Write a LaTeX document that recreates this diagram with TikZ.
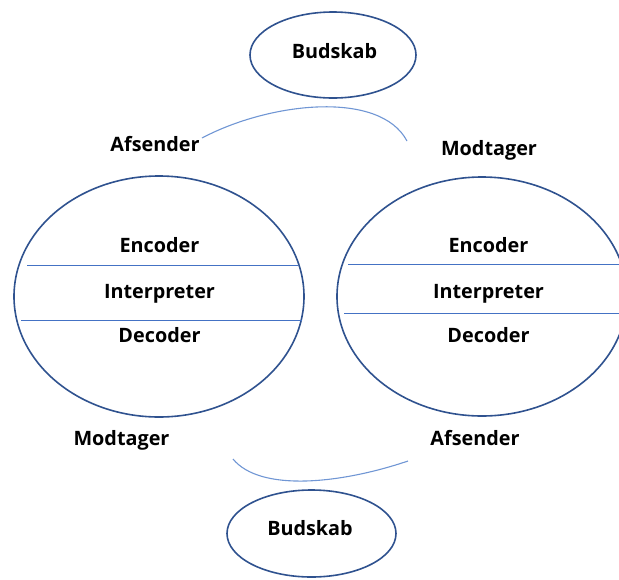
\documentclass[tikz,border=0pt]{standalone}
\usepackage{fontspec}
\setmainfont{Open Sans}
\usepackage{tikz}
\usetikzlibrary{shapes.geometric, positioning}
\definecolor{ringborder}{RGB}{47, 82, 143}
\definecolor{dividercolor}{RGB}{68, 114, 196}
\definecolor{linkcolor}{RGB}{112, 150, 212}
\tikzstyle{ring} = [ellipse, draw=ringborder, line width=1.6pt, inner sep=0pt]
\tikzstyle{word} = [anchor=base, inner sep=0pt, font=\bfseries\fontsize{19.8}{23}\selectfont]
\tikzstyle{divider} = [draw=dividercolor, line width=0.9pt]
\tikzstyle{link} = [draw=linkcolor, line width=1.1pt]

\begin{document}
\begin{tikzpicture}[x=1pt, y=-1pt]
    \useasboundingbox (0,0) rectangle (619,579);

    % message ellipses
    \node[ring, minimum width=166pt, minimum height=86pt] (msgtop) at (333,55) {};
    \node[ring, minimum width=169pt, minimum height=87pt] (msgbot) at (311.5,533.5) {};
    \node[word] (msgtoptext) at (334.5,58.3) {Budskab};
    \node[word] (msgbottext) at (310,535) {Budskab};

    % the two parties
    \node[ring, minimum width=290pt, minimum height=241pt] (left) at (159,296.5) {};
    \node[ring, minimum width=290pt, minimum height=239pt] (right) at (482,296.5) {};

    \draw[divider] (27,265) -- (298,265);
    \draw[divider] (21,320) -- (302,320);
    \draw[divider] (348,264) -- (619,264);
    \draw[divider] (344,313) -- (619,313);

    \node[word] (lenc) at (159.5,252.7) {Encoder};
    \node[word] (lint) at (159.5,298.3) {Interpreter};
    \node[word] (ldec) at (159.5,342.7) {Decoder};
    \node[word] (renc) at (488.5,252.7) {Encoder};
    \node[word] (rint) at (488.5,298.3) {Interpreter};
    \node[word] (rdec) at (488.5,342.2) {Decoder};

    % roles
    \node[word] (afstop) at (155,151.7) {Afsender};
    \node[word] (modtop) at (489,155) {Modtager};
    \node[word] (modbot) at (121.5,445) {Modtager};
    \node[word] (afsbot) at (475,445.7) {Afsender};

    % arcs between the roles
    \coordinate (topstart) at (202,138);
    \coordinate (topend) at (407,141);
    \coordinate (botstart) at (233,459);
    \coordinate (botend) at (408,461);
    \draw[link] (topstart) .. controls (270,102) and (380,90) .. (topend);
    \draw[link] (botstart) .. controls (260,492) and (340,484) .. (botend);
\end{tikzpicture}
\end{document}
